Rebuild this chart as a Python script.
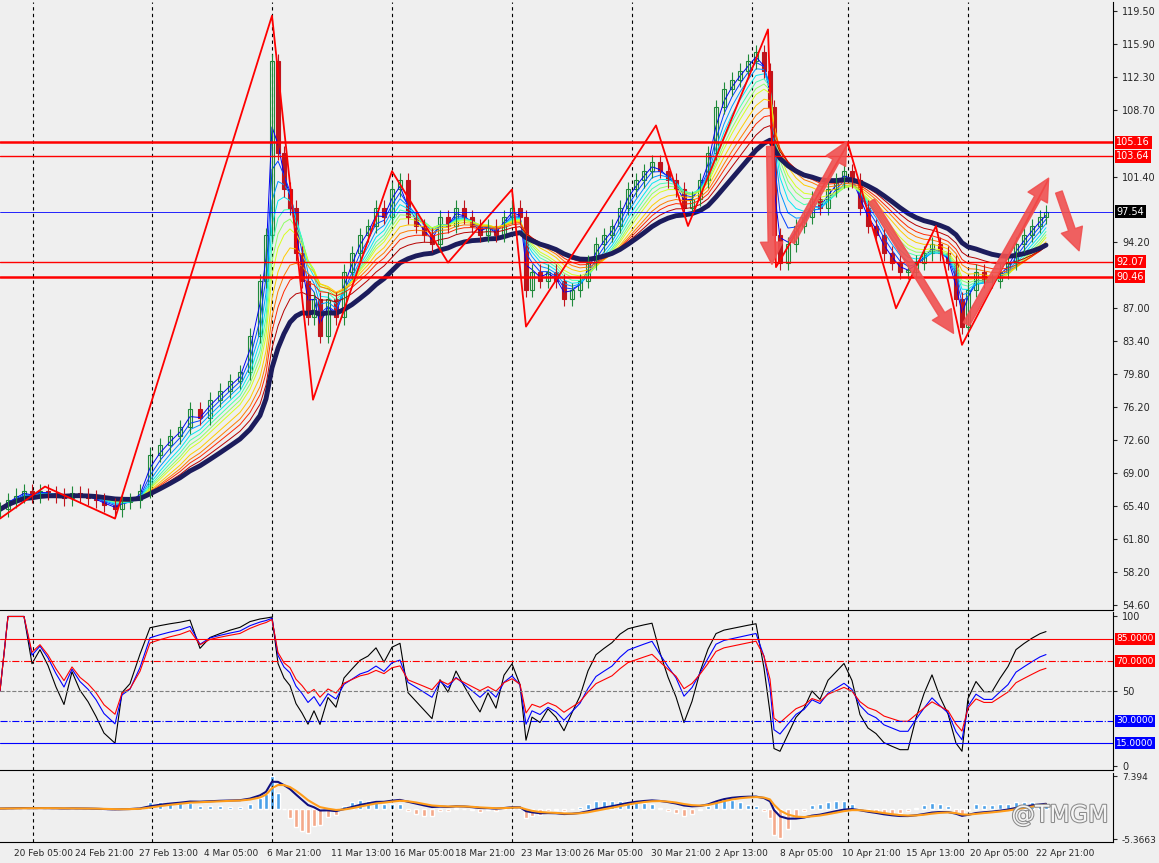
import numpy as np, pandas as pd, matplotlib
matplotlib.use("Agg")
import matplotlib.pyplot as plt, seaborn as sns
import matplotlib.patheffects as pe
from matplotlib.transforms import blended_transform_factory as btf

sns.set_style("white")
plt.rcParams['font.family'] = ['DejaVu Sans']

bar_x = [0,8,16,24,32,40,48,56,64,72,80,88,96,104,115,122,130,140,150,160,170,180,190,200,210,220,230,240,250,260,266,272,278,284,290,296,302,308,314,320,328,336,344,352,360,368,376,384,392,400,408,416,424,432,440,448,456,464,472,480,488,496,504,512,520,526,532,540,548,556,564,572,580,588,596,604,612,620,628,636,644,652,660,668,676,684,692,700,708,716,724,732,740,748,756,764,770,774,780,788,796,804,812,820,828,836,844,852,860,868,876,884,892,900,908,916,924,932,940,948,956,962,968,976,984,992,1000,1008,1016,1024,1032,1040,1046]
closes = [65,66,66.5,67,66.5,67,66.8,66.5,66.2,66.8,66.5,66.3,66,65.5,65,65.8,66,67,71,72,73,74,76,75,77,78,79,80,84,90,95,114,104,100,98,93,90,86,88,84,88,86,91,93,95,96,98,97,100,101,97,96,95,94,97,96,98,97,96,95,96,95,97,98,97,89,91,90,91,90,88,89,90,92,94,95,96,98,100,101,102,103,102,101,100,98,99,101,104,109,111,112,113,114,115,113,109,95,92,94,96,97,99,98,100,101,102,101,98,96,95,93,92,91,91,92,93,94,93,92,88,85,89,91,90,90,91,92,94,95,96,97,97.5]
opens = [closes[0]] + closes[:-1]

zig_x = [0,45,115,272,313,392,448,512,526,656,688,768,776,848,896,936,962,1048]
zig_y = [64,67.5,64,119,77,102,92,100,85,107,96,117.5,91.5,105,87,96,83,101]

hlines_red = [105.16, 103.64, 92.07, 90.46]
hline_blue = 97.54
vgrid = [33,152,272,392,512,632,752,848,968]
tick_dates = ["20 Feb 05:00","24 Feb 21:00","27 Feb 13:00","4 Mar 05:00","6 Mar 21:00","11 Mar 13:00","16 Mar 05:00","18 Mar 21:00","23 Mar 13:00","26 Mar 05:00","30 Mar 21:00","2 Apr 13:00","8 Apr 05:00","10 Apr 21:00","15 Apr 13:00","20 Apr 05:00","22 Apr 21:00"]
tick_x = [14,75,139,204,267,331,394,455,521,583,651,715,780,842,906,970,1036]
price_ticks = [119.5,115.9,112.3,108.7,101.4,94.2,87.0,83.4,79.8,76.2,72.6,69.0,65.4,61.8,58.2,54.6]

bg = "#efefef"
fig = plt.figure(figsize=(11.59, 8.63), dpi=100, facecolor=bg)
W, H = 1159, 863
def axp(x0, y0, x1, y1):
    return fig.add_axes([x0/W, 1-y1/H, (x1-x0)/W, (y1-y0)/H])
ax = axp(0, 2, 1113, 610)
ar = axp(0, 612, 1113, 770)
am = axp(0, 773, 1113, 842)
for a in (ax, ar, am):
    a.set_facecolor(bg); a.set_xlim(0, 1113)
    for sname in ['top','left']: a.spines[sname].set_visible(False)
    for sname in ['right','bottom']: a.spines[sname].set_color('black')
    a.yaxis.tick_right(); a.tick_params(labelsize=7, length=3, direction='out')
    for v in vgrid: a.axvline(v, color='black', ls=(0,(3,3)), lw=0.8)
    a.set_xticks([])

ax.set_ylim(54.0, 120.5)
s = pd.Series(closes, dtype=float)
spans = [2,3,4,5,6,7,8,10,12,14,17]
cmap = plt.get_cmap('jet')
for i, sp in enumerate(spans):
    ax.plot(bar_x, s.ewm(span=sp).mean(), color=cmap(0.1 + 0.85*i/(len(spans)-1)), lw=0.7)
ax.plot(bar_x, s.ewm(span=22).mean(), color='#1c1c5c', lw=3.5)
for x, o, c in zip(bar_x, opens, closes):
    up = c >= o
    col = '#1f8a3a' if up else '#c0141c'
    ax.vlines(x, min(o,c)-0.8, max(o,c)+0.8, color=col, lw=0.8)
    ax.bar(x, max(abs(c-o), 0.15), bottom=min(o,c), width=3.5, color=col if not up else bg, edgecolor=col, lw=0.8)
ax.plot(zig_x, zig_y, color='red', lw=1.3)
for h in hlines_red:
    ax.axhline(h, color='red', lw=1.8 if h in (105.16, 90.46) else 1.0)
ax.axhline(hline_blue, color='blue', lw=0.6)
arrow_kw = dict(arrowstyle='simple,head_width=1.6,head_length=1.6,tail_width=0.5', color='#f05050', alpha=0.9)
for (x0,y0),(x1,y1) in [((770,105),(772,91.5)),((790,94),(848,105.5)),((870,99),(955,84)),((965,85),(1050,101.5)),((1058,100),(1080,93))]:
    ax.annotate('', xy=(x1,y1), xytext=(x0,y0), arrowprops=arrow_kw)
ax.set_yticks(price_ticks); ax.set_yticklabels([f"{t:.2f}" for t in price_ticks])
tr = btf(ax.transAxes, ax.transData)
for h, fc in [(105.16,'red'),(103.64,'red'),(92.07,'red'),(90.46,'red'),(97.54,'black')]:
    ax.text(1.003, h, f"{h:.2f}", transform=tr, fontsize=7, color='white', va='center',
            bbox=dict(boxstyle='square,pad=0.15', fc=fc, ec='none'))

def rsi(series, n):
    d = series.diff()
    g = d.clip(lower=0).ewm(alpha=1/n).mean(); l = (-d.clip(upper=0)).ewm(alpha=1/n).mean()
    return 100 - 100/(1+g/l)
ar.set_ylim(-3, 103)
sns.lineplot(x=bar_x, y=rsi(s, 4).fillna(50).values, ax=ar, color='black', lw=0.8)
sns.lineplot(x=bar_x, y=rsi(s, 7).fillna(50).values, ax=ar, color='blue', lw=0.8)
sns.lineplot(x=bar_x, y=rsi(s, 10).fillna(50).values, ax=ar, color='red', lw=0.8)
ar.axhline(85, color='red', lw=0.8); ar.axhline(70, color='red', lw=0.8, ls='-.')
ar.axhline(50, color='gray', lw=0.8, ls='--'); ar.axhline(30, color='blue', lw=0.8, ls='-.')
ar.axhline(15, color='blue', lw=0.8)
ar.set_yticks([0,50,100]); ar.set_yticklabels(['0','50','100'])
tr2 = btf(ar.transAxes, ar.transData)
for h, fc in [(85,'red'),(70,'red'),(30,'blue'),(15,'blue')]:
    ar.text(1.003, h, f"{h:.4f}", transform=tr2, fontsize=6.5, color='white', va='center',
            bbox=dict(boxstyle='square,pad=0.15', fc=fc, ec='none'))
ar.set_ylabel('')

m = s.ewm(span=5).mean() - s.ewm(span=13).mean()
sig = m.ewm(span=3).mean()
hist = (m - sig) * 5
am.bar(bar_x, hist, width=4, color=['#4aa0e8' if v >= 0 else '#f4a98a' for v in hist])
am.plot(bar_x, m, color='#101080', lw=1.5)
am.plot(bar_x, sig, color='#ff9c1a', lw=1.5)
lo, hi = min(m.min(), hist.min()), max(m.max(), hist.max())
am.set_ylim(lo*1.15, hi*1.1)
am.set_yticks([hi*1.0, lo*1.05]); am.set_yticklabels(['7.394', '-5.3663'], fontsize=6.5)
for x, t in zip(tick_x, tick_dates):
    fig.text(x/W, 1-853/H, t, fontsize=6.5, ha='left', va='center')
fig.text(1060/W, 1-815/H, '@TMGM', fontsize=17, color='white', ha='center', va='center', alpha=0.9,
         path_effects=[pe.withStroke(linewidth=1.5, foreground='gray')])
fig.savefig('out.png', dpi=100, facecolor=bg)
